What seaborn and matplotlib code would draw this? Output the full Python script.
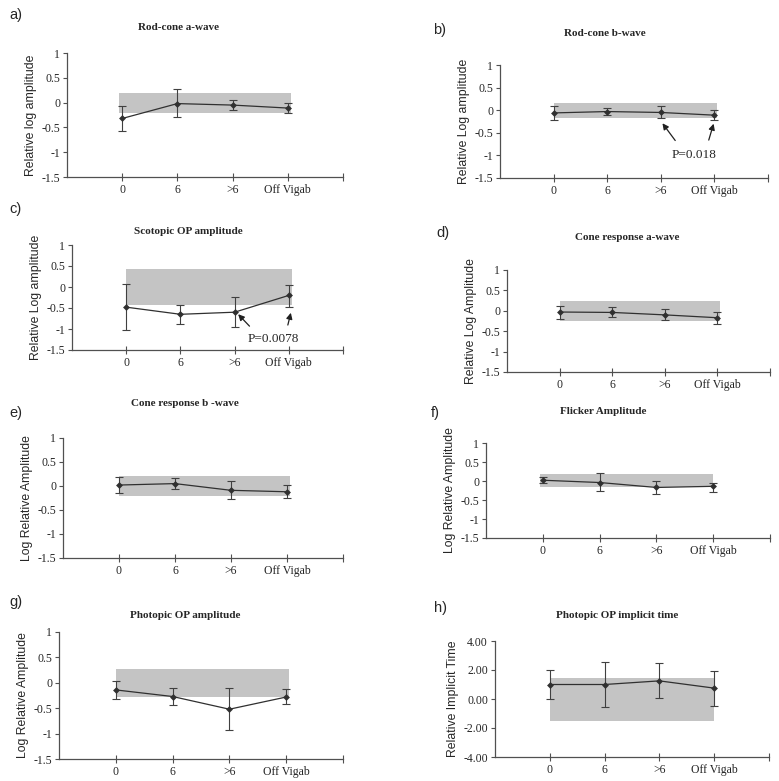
import matplotlib
matplotlib.use("Agg")
import matplotlib.pyplot as plt
import seaborn as sns
import pandas as pd
import numpy as np

sns.set_style("white")
plt.rcParams['font.family'] = ['Liberation Serif', 'DejaVu Serif']

categories = ["0", "6", ">6", "Off Vigab"]

titles = ["Rod-cone a-wave", "Rod-cone b-wave", "Scotopic OP amplitude",
          "Cone response a-wave", "Cone response b -wave", "Flicker Amplitude",
          "Photopic OP amplitude", "Photopic OP implicit time"]
ylabels = ["Relative log amplitude", "Relative Log amplitude", "Relative Log amplitude",
           "Relative Log Amplitude", "Log Relative Amplitude", "Log Relative Amplitude",
           "Log Relative Amplitude", "Relative Implicit Time"]
panel_letters = ["a)", "b)", "c)", "d)", "e)", "f)", "g)", "h)"]

# mean values
mean_a = [-0.32, -0.02, -0.05, -0.11]
mean_b = [-0.06, -0.03, -0.05, -0.11]
mean_c = [-0.48, -0.65, -0.60, -0.20]
mean_d = [-0.03, -0.04, -0.10, -0.17]
mean_e = [0.02, 0.05, -0.09, -0.12]
mean_f = [0.02, -0.04, -0.17, -0.14]
mean_g = [-0.14, -0.27, -0.52, -0.28]
mean_h = [1.00, 1.00, 1.25, 0.75]

# error bar lower / upper limits
low_a = [-0.57, -0.30, -0.14, -0.20]
high_a = [-0.06, 0.27, 0.06, -0.01]
low_b = [-0.22, -0.10, -0.18, -0.22]
high_b = [0.10, 0.05, 0.10, 0.00]
low_c = [-1.03, -0.87, -0.95, -0.47]
high_c = [0.08, -0.43, -0.24, 0.05]
low_d = [-0.20, -0.16, -0.23, -0.32]
high_d = [0.12, 0.10, 0.05, -0.02]
low_e = [-0.15, -0.06, -0.27, -0.24]
high_e = [0.19, 0.16, 0.10, 0.02]
low_f = [-0.05, -0.27, -0.33, -0.30]
high_f = [0.10, 0.20, -0.01, -0.04]
low_g = [-0.31, -0.43, -0.93, -0.42]
high_g = [0.03, -0.11, -0.11, -0.13]
low_h = [0.00, -0.55, 0.05, -0.50]
high_h = [2.00, 2.55, 2.45, 1.90]

# normal range band (lower, upper)
band_lo = [-0.20, -0.17, -0.42, -0.25, -0.20, -0.17, -0.28, -1.55]
band_hi = [0.20, 0.15, 0.43, 0.23, 0.20, 0.18, 0.28, 1.45]

means = [mean_a, mean_b, mean_c, mean_d, mean_e, mean_f, mean_g, mean_h]
lows = [low_a, low_b, low_c, low_d, low_e, low_f, low_g, low_h]
highs = [high_a, high_b, high_c, high_d, high_e, high_f, high_g, high_h]

W, H = 779, 781
fig = plt.figure(figsize=(W / 100, H / 100), dpi=100)

# axes boxes in pixels: left, right, top, bottom
boxes = [(67, 343, 53, 177), (500, 768, 65, 178),
         (72, 343, 245, 350), (507, 770, 270, 372),
         (63, 343, 438, 558), (486, 770, 443, 538),
         (59, 343, 632, 759), (495, 769, 641, 757)]
title_pos = [(178, 27), (605, 34), (188, 232), (627, 238),
             (185, 404), (603, 411), (185, 616), (617, 615)]
letter_pos = [(9, 15), (433, 30), (9, 209), (436, 233),
              (9, 413), (431, 413), (9, 602), (434, 608)]
band_x = [(0.19, 0.81), (0.2, 0.81), (0.2, 0.81), (0.2, 0.81),
          (0.2, 0.81), (0.19, 0.8), (0.2, 0.81), (0.2, 0.8)]

line_col = "#303030"

for i in range(8):
    l, r, t, b = boxes[i]
    ax = fig.add_axes([l / W, 1 - b / H, (r - l) / W, (b - t) / H])
    df = pd.DataFrame({"cat": categories, "val": means[i]})
    ax.axhspan(band_lo[i], band_hi[i], xmin=band_x[i][0], xmax=band_x[i][1],
               color="#c4c4c4", lw=0, zorder=0)
    sns.lineplot(data=df, x="cat", y="val", ax=ax, color=line_col, lw=0.9,
                 marker="D", markersize=3.5, markeredgewidth=0,
                 sort=False, zorder=3)
    m = np.array(means[i]); lo = np.array(lows[i]); hi = np.array(highs[i])
    ax.errorbar(np.arange(len(categories)), m, yerr=[m - lo, hi - m], fmt="none",
                ecolor="#404040", elinewidth=0.8, capsize=2.8, capthick=0.8, zorder=2)
    ax.set_xlim(-1, 4)
    if i == 7:
        ax.set_ylim(-4, 4)
        ax.set_yticks([-4, -2, 0, 2, 4])
        ax.set_yticklabels(["-4.00", "-2.00", "0.00", "2.00", "4.00"])
    else:
        ax.set_ylim(-1.5, 1)
        ax.set_yticks([-1.5, -1, -0.5, 0, 0.5, 1])
        ax.set_yticklabels(["-1.5", "-1", "-0.5", "0", "0.5", "1"])
    ax.set_xticks(range(len(categories)))
    ax.set_xticklabels(categories)
    ax.set_xticks([4], minor=True)
    for s in ["top", "right"]:
        ax.spines[s].set_visible(False)
    for s in ["left", "bottom"]:
        ax.spines[s].set_color("#505050")
        ax.spines[s].set_linewidth(0.9)
    ax.tick_params(axis="y", direction="out", length=3, width=0.8, color="#505050",
                   labelsize=8.5, pad=2, left=True)
    ax.tick_params(axis="x", which="both", direction="inout", length=6, width=0.8,
                   color="#505050", labelsize=8.5, pad=2, bottom=True)
    ax.set_xlabel("")
    ax.set_ylabel(ylabels[i], family=["Liberation Sans", "DejaVu Sans"], fontsize=8.8,
                  labelpad=3)
    ax.patch.set_alpha(0)
    tx, ty = title_pos[i]
    fig.text(tx / W, 1 - ty / H, titles[i], ha="center", va="center",
             fontsize=8, fontweight="bold")
    lx, ly = letter_pos[i]
    fig.text(lx / W, 1 - ly / H, panel_letters[i], ha="left", va="center",
             fontsize=10.5, family=["Liberation Sans", "DejaVu Sans"])

    if i == 1:
        ax.text(2.62, -1.0, "P=0.018", ha="center", va="center", fontsize=9.5)
        ax.annotate("", xy=(2.0, -0.24), xytext=(2.3, -0.72),
                    arrowprops=dict(arrowstyle="-|>", color="#202020", lw=0.9,
                                    mutation_scale=9))
        ax.annotate("", xy=(3.0, -0.24), xytext=(2.88, -0.72),
                    arrowprops=dict(arrowstyle="-|>", color="#202020", lw=0.9,
                                    mutation_scale=9))
    if i == 2:
        ax.text(2.72, -1.25, "P=0.0078", ha="center", va="center", fontsize=9.5)
        ax.annotate("", xy=(2.03, -0.6), xytext=(2.31, -0.98),
                    arrowprops=dict(arrowstyle="-|>", color="#202020", lw=0.9,
                                    mutation_scale=9))
        ax.annotate("", xy=(3.05, -0.55), xytext=(2.97, -0.97),
                    arrowprops=dict(arrowstyle="-|>", color="#202020", lw=0.9,
                                    mutation_scale=9))

fig.savefig("out.png", dpi=100, facecolor="white")
